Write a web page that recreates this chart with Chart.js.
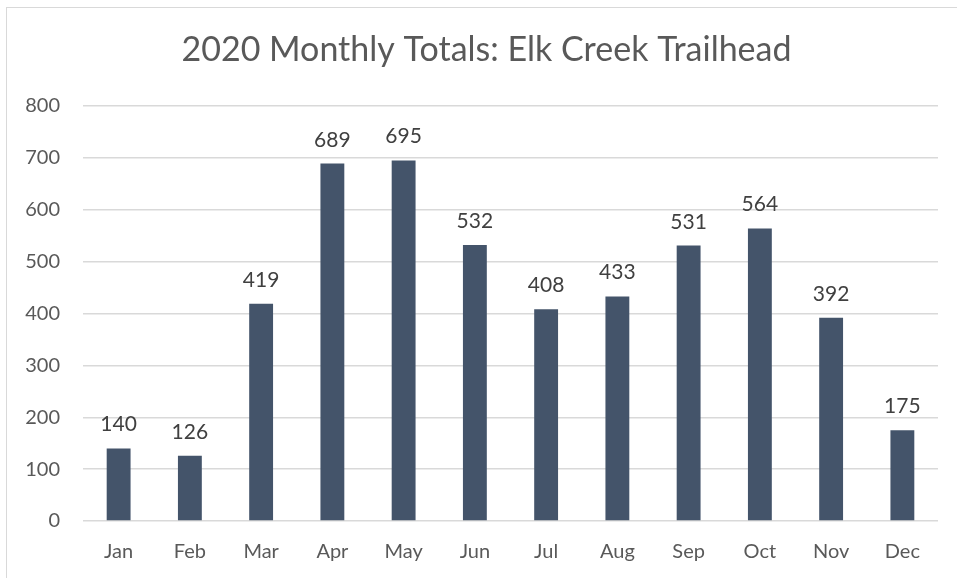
<!DOCTYPE html>
<html>
<head>
<meta charset="utf-8">
<script src="https://cdn.jsdelivr.net/npm/chart.js@4/dist/chart.umd.min.js"></script>
<style>
  html, body { margin: 0; padding: 0; background: #fff; }
  #wrap { position: relative; width: 957px; height: 578px; overflow: hidden; }
  #frame { position: absolute; left: 6px; top: 7px; width: 1000px; height: 700px; border: 1px solid #d9d9d9; box-sizing: border-box; }
  canvas { position: absolute; left: 0; top: 0; }
</style>
</head>
<body>
<div id="wrap">
  <div id="frame"></div>
  <canvas id="trailChart" width="957" height="578"></canvas>
</div>
<script>
// 2020 visitor counts, Elk Creek Trailhead
const months = ['Jan', 'Feb', 'Mar', 'Apr', 'May', 'Jun', 'Jul', 'Aug', 'Sep', 'Oct', 'Nov', 'Dec'];
const totals = [140, 126, 419, 689, 695, 532, 408, 433, 531, 564, 392, 175];
const yTicks = [0, 100, 200, 300, 400, 500, 600, 700, 800];
const chartTitle = '2020 Monthly Totals: Elk Creek Trailhead';

const fontFamily = 'Lato, "Open Sans", sans-serif';
const textColor = '#595959';

// draws the value above each bar
const barLabels = {
  id: 'barLabels',
  afterDatasetsDraw(chart) {
    const ctx = chart.ctx;
    const meta = chart.getDatasetMeta(0);
    ctx.save();
    ctx.font = '21px ' + fontFamily;
    ctx.fillStyle = '#404040';
    ctx.textAlign = 'center';
    ctx.textBaseline = 'alphabetic';
    meta.data.forEach((bar, i) => {
      ctx.fillText(String(totals[i]), bar.x, bar.y - 17);
    });
    ctx.restore();
  },
};

// title centred on the whole frame rather than the plot area
const frameTitle = {
  id: 'frameTitle',
  afterDraw(chart) {
    const ctx = chart.ctx;
    ctx.save();
    ctx.font = '34px ' + fontFamily;
    ctx.fillStyle = textColor;
    ctx.textAlign = 'center';
    ctx.textBaseline = 'middle';
    ctx.fillText(chartTitle, chart.width / 2 + 8, 50);
    ctx.restore();
  },
};

new Chart(document.getElementById('trailChart'), {
  type: 'bar',
  data: {
    labels: months,
    datasets: [{
      data: totals,
      backgroundColor: '#44546a',
      barPercentage: 0.335,
      categoryPercentage: 1,
    }],
  },
  options: {
    responsive: false,
    animation: false,
    layout: { padding: { left: 0, right: 19, top: 106, bottom: 0 } },
    plugins: {
      legend: { display: false },
      tooltip: { enabled: false },
      title: { display: false },
    },
    scales: {
      x: {
        grid: { display: false, drawTicks: false },
        border: { display: false },
        ticks: { color: textColor, font: { family: fontFamily, size: 20 }, padding: 19, maxRotation: 0 },
        afterFit(scale) { scale.height = 57; },
      },
      y: {
        min: 0,
        max: 800,
        afterBuildTicks(scale) { scale.ticks = yTicks.map((v) => ({ value: v })); },
        grid: { color: '#d9d9d9', lineWidth: 1.5, drawTicks: false },
        border: { display: false },
        ticks: { color: textColor, font: { family: fontFamily, size: 20 }, padding: 23 },
        afterFit(scale) { scale.width = 83; },
      },
    },
  },
  plugins: [barLabels, frameTitle],
});
</script>
</body>
</html>
